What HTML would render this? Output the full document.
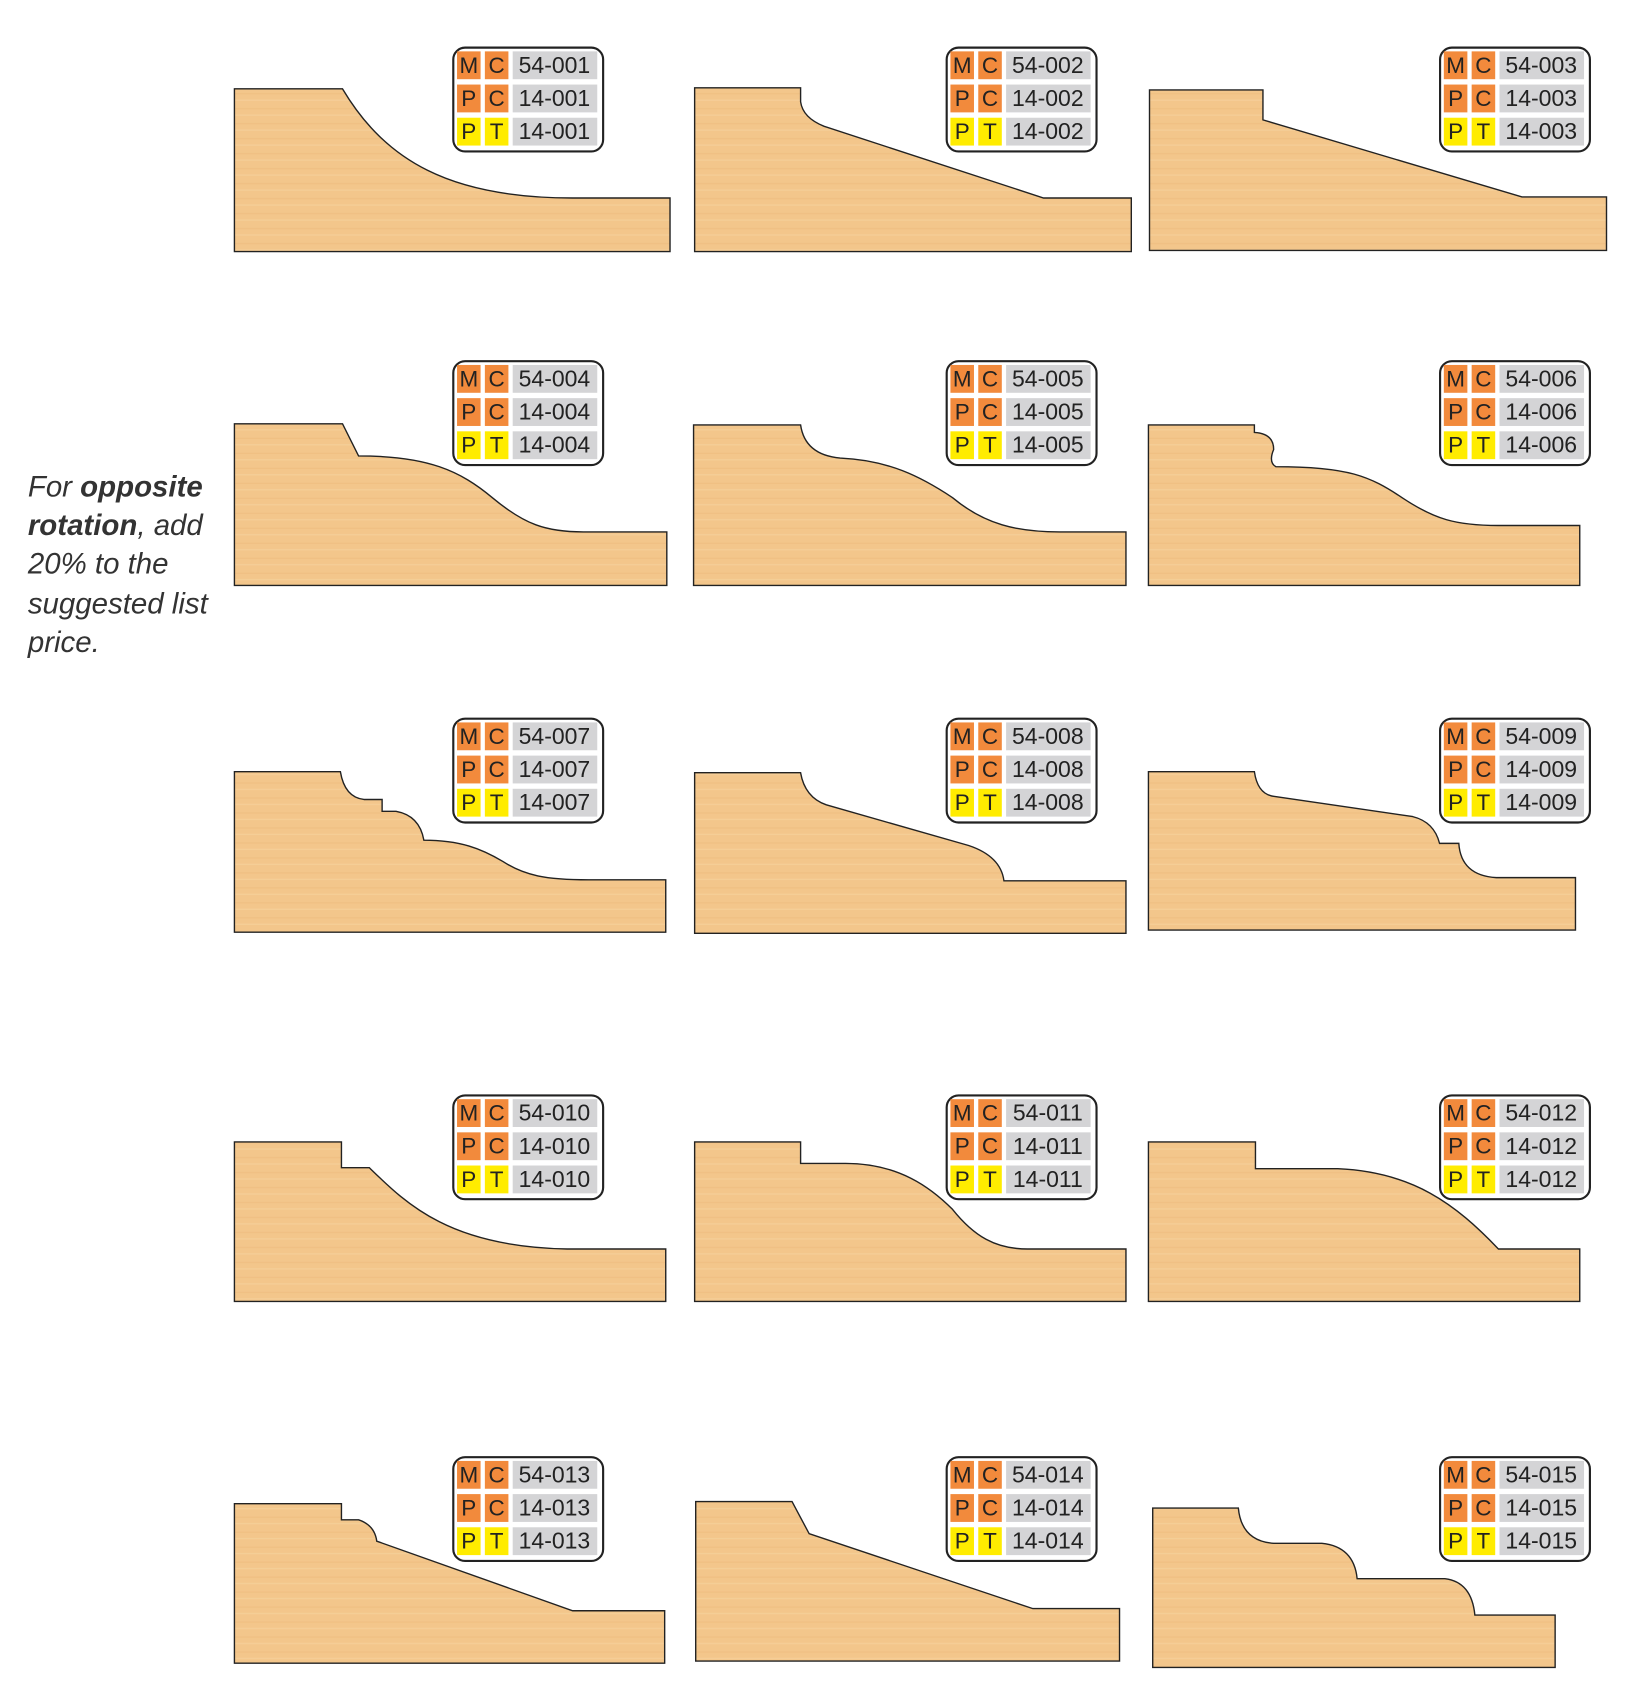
<!DOCTYPE html>
<html><head><meta charset="utf-8"><style>
html,body{margin:0;padding:0;background:#fff;}
svg{display:block;}
text{font-family:"Liberation Sans",Arial,sans-serif;}
</style></head><body>
<svg width="1644" height="1683" viewBox="0 0 1536 1572.5" xmlns="http://www.w3.org/2000/svg">
<defs>
<pattern id="st" width="1536" height="14" patternUnits="userSpaceOnUse">
<rect width="1536" height="14" fill="#f3c68b"/>
<rect x="0" y="3" width="1536" height="1.2" fill="#eab474" opacity=".35"/>
<rect x="0" y="9" width="1536" height="1.2" fill="#f8d6a4" opacity=".5"/>
</pattern>
<g id="badge">
<rect x="0.5" y="0.5" width="140" height="97" rx="11" fill="#fff" stroke="#222" stroke-width="2"/>
<rect x="4" y="4" width="22" height="26" fill="#f28a3c"/><rect x="30" y="4" width="22" height="26" fill="#f28a3c"/><rect x="56" y="4" width="79" height="26" fill="#d4d4d6"/>
<rect x="4" y="35" width="22" height="26" fill="#f28a3c"/><rect x="30" y="35" width="22" height="26" fill="#f28a3c"/><rect x="56" y="35" width="79" height="26" fill="#d4d4d6"/>
<rect x="4" y="66" width="22" height="26" fill="#ffec00"/><rect x="30" y="66" width="22" height="26" fill="#ffec00"/><rect x="56" y="66" width="79" height="26" fill="#d4d4d6"/>
<g font-size="21" fill="#222" text-anchor="middle">
<text x="15" y="24">M</text><text x="41" y="24">C</text>
<text x="15" y="55">P</text><text x="41" y="55">C</text>
<text x="15" y="86">P</text><text x="41" y="86">T</text>
</g>
</g>
</defs>
<g fill="url(#st)" stroke="#222" stroke-width="1.3">
<path d="M219,83 L320,83 C360,150 420,185 535,185 L626,185 L626,235 L219,235 Z"/>
<path d="M649,82 L748,82 L748,95 Q750,110 770,118 L975,185 L1057,185 L1057,235 L649,235 Z"/>
<path d="M1074,84 L1180,84 L1180,112 L1422,184 L1501,184 L1501,234 L1074,234Z"/>
<path d="M219,396 L320,396 L335,426 C400,426 430,440 460,465 C490,490 510,497 545,497 L623,497 L623,547 L219,547Z"/>
<path d="M648,397 L748,397 Q752,425 785,428 C830,430 860,445 890,465 C920,490 950,497 990,497 L1052,497 L1052,547 L648,547Z"/>
<path d="M1073,397 L1172,397 L1172,404 Q1190,405 1190,420 Q1185,432 1192,436 C1260,436 1280,445 1310,465 C1340,485 1360,491 1400,491 L1476,491 L1476,547 L1073,547Z"/>
<path d="M219,721 L318,721 Q322,745 340,747 L357,747 L357,758 L370,758 Q392,762 396,785 C430,785 450,793 470,805 C490,818 510,822 550,822 L622,822 L622,871 L219,871Z"/>
<path d="M649,722 L748,722 Q752,745 772,752 L905,790 Q935,800 938,823 L1052,823 L1052,872 L649,872Z"/>
<path d="M1073,721 L1172,721 Q1175,742 1190,744 L1320,763 Q1340,768 1345,788 L1363,788 Q1365,818 1398,820 L1472,820 L1472,869 L1073,869Z"/>
<path d="M219,1067 L319,1067 L319,1091 L345,1091 C380,1125 420,1165 530,1167 L622,1167 L622,1216 L219,1216Z"/>
<path d="M649,1067 L748,1067 L748,1087 L790,1087 C840,1087 870,1110 890,1130 C910,1155 930,1167 960,1167 L1052,1167 L1052,1216 L649,1216Z"/>
<path d="M1073,1067 L1173,1067 L1173,1092 L1250,1092 C1320,1095 1360,1125 1400,1167 L1476,1167 L1476,1216 L1073,1216Z"/>
<path d="M219,1405 L319,1405 L319,1420 L335,1420 Q350,1425 352,1440 L535,1505 L621,1505 L621,1554 L219,1554Z"/>
<path d="M650,1403 L740,1403 L756,1433 L965,1503 L1046,1503 L1046,1552 L650,1552Z"/>
<path d="M1077,1409 L1157,1409 Q1160,1440 1190,1442 L1235,1442 Q1265,1445 1268,1475 L1350,1475 Q1375,1478 1378,1509 L1453,1509 L1453,1558 L1077,1558Z"/>
</g>
<g font-size="21.5" fill="#222" text-anchor="middle">
<use href="#badge" x="423" y="44"/><text x="518" y="68">54-001</text><text x="518" y="99">14-001</text><text x="518" y="130">14-001</text>
<use href="#badge" x="884" y="44"/><text x="979" y="68">54-002</text><text x="979" y="99">14-002</text><text x="979" y="130">14-002</text>
<use href="#badge" x="1345" y="44"/><text x="1440" y="68">54-003</text><text x="1440" y="99">14-003</text><text x="1440" y="130">14-003</text>
<use href="#badge" x="423" y="337"/><text x="518" y="361">54-004</text><text x="518" y="392">14-004</text><text x="518" y="423">14-004</text>
<use href="#badge" x="884" y="337"/><text x="979" y="361">54-005</text><text x="979" y="392">14-005</text><text x="979" y="423">14-005</text>
<use href="#badge" x="1345" y="337"/><text x="1440" y="361">54-006</text><text x="1440" y="392">14-006</text><text x="1440" y="423">14-006</text>
<use href="#badge" x="423" y="671"/><text x="518" y="695">54-007</text><text x="518" y="726">14-007</text><text x="518" y="757">14-007</text>
<use href="#badge" x="884" y="671"/><text x="979" y="695">54-008</text><text x="979" y="726">14-008</text><text x="979" y="757">14-008</text>
<use href="#badge" x="1345" y="671"/><text x="1440" y="695">54-009</text><text x="1440" y="726">14-009</text><text x="1440" y="757">14-009</text>
<use href="#badge" x="423" y="1023"/><text x="518" y="1047">54-010</text><text x="518" y="1078">14-010</text><text x="518" y="1109">14-010</text>
<use href="#badge" x="884" y="1023"/><text x="979" y="1047">54-011</text><text x="979" y="1078">14-011</text><text x="979" y="1109">14-011</text>
<use href="#badge" x="1345" y="1023"/><text x="1440" y="1047">54-012</text><text x="1440" y="1078">14-012</text><text x="1440" y="1109">14-012</text>
<use href="#badge" x="423" y="1361"/><text x="518" y="1385">54-013</text><text x="518" y="1416">14-013</text><text x="518" y="1447">14-013</text>
<use href="#badge" x="884" y="1361"/><text x="979" y="1385">54-014</text><text x="979" y="1416">14-014</text><text x="979" y="1447">14-014</text>
<use href="#badge" x="1345" y="1361"/><text x="1440" y="1385">54-015</text><text x="1440" y="1416">14-015</text><text x="1440" y="1447">14-015</text>
</g>
<g font-size="27.5" font-style="italic" fill="#333">
<text x="26" y="464">For <tspan font-weight="bold">opposite</tspan></text>
<text x="26" y="500"><tspan font-weight="bold">rotation</tspan>, add</text>
<text x="26" y="536">20% to the</text>
<text x="26" y="573">suggested list</text>
<text x="26" y="609">price.</text>
</g>
</svg>
</body></html>
